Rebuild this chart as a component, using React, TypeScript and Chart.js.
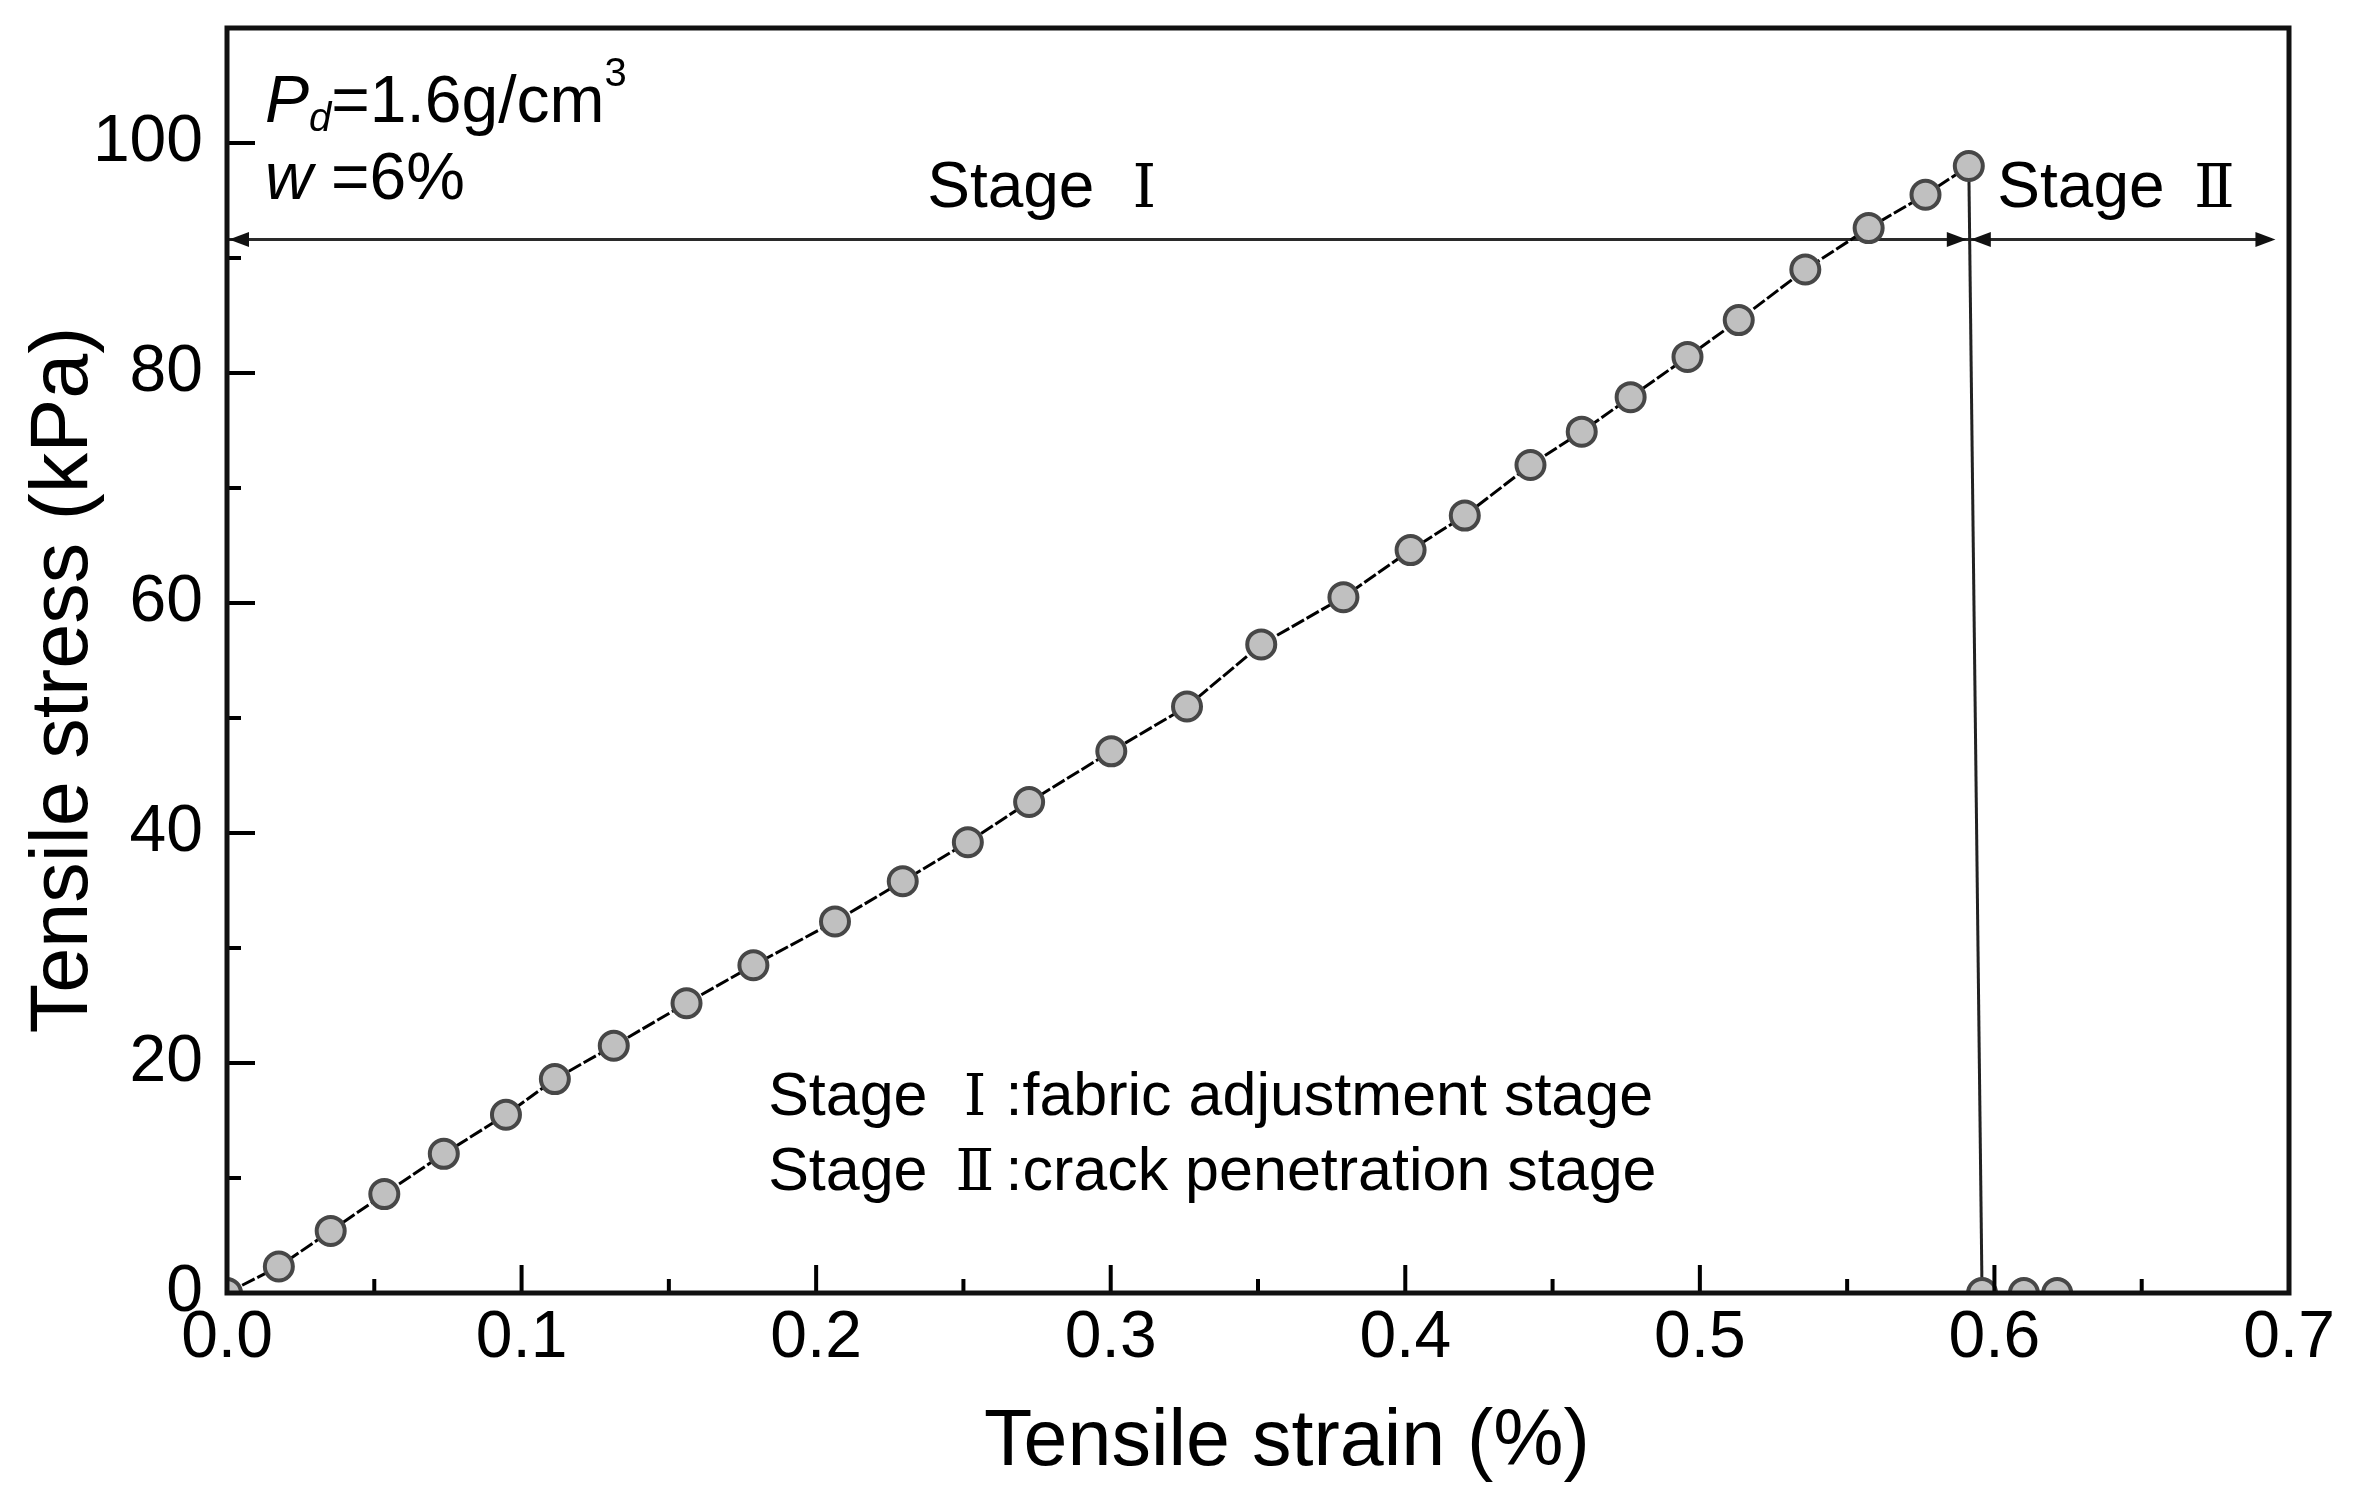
import React, { useEffect, useRef } from 'react';
import { Chart, registerables } from 'chart.js';

Chart.register(...registerables);

// ---- data ----
const strain = [
  0.0, 0.0176, 0.0352, 0.0534, 0.0736, 0.0947, 0.1113, 0.1313, 0.156, 0.1787,
  0.2064, 0.2294, 0.2515, 0.2723, 0.3002, 0.3259, 0.3511, 0.379, 0.4018, 0.4202,
  0.4425, 0.4599, 0.4765, 0.4958, 0.5132, 0.5358, 0.5573, 0.5766, 0.5913,
  0.5958, 0.61, 0.6213,
];
const stress = [
  0, 2.3, 5.4, 8.6, 12.1, 15.5, 18.6, 21.5, 25.2, 28.5,
  32.3, 35.8, 39.2, 42.7, 47.1, 51.0, 56.4, 60.5, 64.6, 67.6,
  72.0, 74.9, 77.9, 81.4, 84.6, 89.0, 92.6, 95.5, 98.0,
  0, 0, 0,
];
const xTicks = [0, 0.1, 0.2, 0.3, 0.4, 0.5, 0.6, 0.7];
const xMinorTicks = [0.05, 0.15, 0.25, 0.35, 0.45, 0.55, 0.65];
const yTicks = [0, 20, 40, 60, 80, 100];
const yMinorTicks = [10, 30, 50, 70, 90];
const xTitle = 'Tensile strain (%)';
const yTitle = 'Tensile stress (kPa)';
const stageNames = ['Stage ', 'Stage '];
const stageNumerals = ['Ⅰ', 'Ⅱ'];
const stageDescriptions = [':fabric adjustment stage', ':crack penetration stage'];
const stageArrowStress = 91.6;
const stageEndStrain = 0.6954;

// ---- layout / style constants ----
const W = 2357;
const H = 1506;
const SANS = '"Liberation Sans", Arial, Helvetica, sans-serif';
const NUM = '"DejaVu Serif", "Liberation Serif", "Noto Sans CJK SC", serif';

type Seg = { t: string; font: string; dy?: number; box?: number };
function drawRich(ctx: CanvasRenderingContext2D, x: number, y: number, segs: Seg[]) {
  let cx = x;
  for (const s of segs) {
    ctx.font = s.font;
    const w = ctx.measureText(s.t).width;
    if (s.box) {
      ctx.fillText(s.t, cx + (s.box - w) / 2, y + (s.dy || 0));
      cx += s.box;
    } else {
      ctx.fillText(s.t, cx, y + (s.dy || 0));
      cx += w;
    }
  }
}

function arrowHead(ctx: CanvasRenderingContext2D, tipX: number, y: number, dir: number) {
  const len = 20;
  const half = 7.5;
  ctx.beginPath();
  ctx.moveTo(tipX, y);
  ctx.lineTo(tipX - dir * len, y - half);
  ctx.lineTo(tipX - dir * len, y + half);
  ctx.closePath();
  ctx.fill();
}

const peakIndex = stress.indexOf(Math.max(...stress));

const decorPlugin = {
  id: 'decor',
  beforeDraw(chart: any) {
    const ctx = chart.ctx;
    ctx.save();
    ctx.fillStyle = '#ffffff';
    ctx.fillRect(0, 0, chart.width, chart.height);
    ctx.restore();
  },
  beforeDatasetsDraw(chart: any) {
    const ctx: CanvasRenderingContext2D = chart.ctx;
    const xs = chart.scales.x;
    const ys = chart.scales.y;
    const y = ys.getPixelForValue(stageArrowStress);
    const x0 = xs.getPixelForValue(0);
    const xd = xs.getPixelForValue(strain[peakIndex]);
    const xe = xs.getPixelForValue(stageEndStrain);
    ctx.save();
    ctx.strokeStyle = '#2a2a2a';
    ctx.fillStyle = '#111';
    ctx.lineWidth = 3;
    ctx.beginPath();
    ctx.moveTo(x0, y);
    ctx.lineTo(xe - 4, y);
    ctx.stroke();
    arrowHead(ctx, x0 + 2, y, -1);
    arrowHead(ctx, xd - 2, y, 1);
    arrowHead(ctx, xd + 2, y, -1);
    arrowHead(ctx, xe, y, 1);
    ctx.restore();
  },
  afterDatasetsDraw(chart: any) {
    const ctx: CanvasRenderingContext2D = chart.ctx;
    const a = chart.chartArea;
    const xs = chart.scales.x;
    const ys = chart.scales.y;
    ctx.save();
    ctx.strokeStyle = '#000';
    ctx.lineWidth = 4;
    ctx.beginPath();
    for (const v of xTicks) {
      const px = xs.getPixelForValue(v);
      ctx.moveTo(px, a.bottom);
      ctx.lineTo(px, a.bottom - 28);
    }
    for (const v of xMinorTicks) {
      const px = xs.getPixelForValue(v);
      ctx.moveTo(px, a.bottom);
      ctx.lineTo(px, a.bottom - 14);
    }
    for (const v of yTicks) {
      const py = ys.getPixelForValue(v);
      ctx.moveTo(a.left, py);
      ctx.lineTo(a.left + 28, py);
    }
    for (const v of yMinorTicks) {
      const py = ys.getPixelForValue(v);
      ctx.moveTo(a.left, py);
      ctx.lineTo(a.left + 14, py);
    }
    ctx.stroke();
    ctx.lineWidth = 5;
    ctx.strokeStyle = '#111';
    ctx.strokeRect(a.left, a.top, a.right - a.left, a.bottom - a.top);
    ctx.restore();
  },
  afterDraw(chart: any) {
    const ctx: CanvasRenderingContext2D = chart.ctx;
    const a = chart.chartArea;
    const xs = chart.scales.x;
    const ys = chart.scales.y;
    ctx.save();
    ctx.fillStyle = '#000';
    ctx.textBaseline = 'alphabetic';

    // axis titles
    ctx.textAlign = 'center';
    ctx.font = `79px ${SANS}`;
    ctx.fillText(xTitle, 1287, 1465);
    ctx.save();
    ctx.translate(87, 680);
    ctx.rotate(-Math.PI / 2);
    ctx.font = `81px ${SANS}`;
    ctx.fillText(yTitle, 0, 0);
    ctx.restore();
    ctx.textAlign = 'left';

    // specimen info
    const ix = a.left + 38;
    drawRich(ctx, ix, 122, [
      { t: 'P', font: `italic 66px ${SANS}` },
      { t: 'd', font: `italic 40px ${SANS}`, dy: 9 },
      { t: '=1.6g/cm', font: `66px ${SANS}` },
      { t: '3', font: `40px ${SANS}`, dy: -36 },
    ]);
    drawRich(ctx, ix, 199, [
      { t: 'w', font: `italic 66px ${SANS}` },
      { t: ' =6%', font: `66px ${SANS}` },
    ]);

    // stage labels above the arrow
    drawRich(ctx, xs.getPixelForValue(0.2377), 207, [
      { t: stageNames[0], font: `64px ${SANS}` },
      { t: stageNumerals[0], font: `60px ${NUM}`, box: 64 },
    ]);
    drawRich(ctx, xs.getPixelForValue(0.601), 207, [
      { t: stageNames[1], font: `64px ${SANS}` },
      { t: stageNumerals[1], font: `60px ${NUM}`, box: 64 },
    ]);

    // stage descriptions
    const lx = xs.getPixelForValue(0.1837);
    const base1 = ys.getPixelForValue(15.5);
    const base2 = ys.getPixelForValue(9.0);
    [base1, base2].forEach((b, i) => {
      drawRich(ctx, lx, b, [
        { t: stageNames[i], font: `61px ${SANS}` },
        { t: stageNumerals[i], font: `57px ${NUM}`, box: 61 },
        { t: stageDescriptions[i], font: `61px ${SANS}` },
      ]);
    });
    ctx.restore();
  },
};

export default function App() {
  const ref = useRef<HTMLCanvasElement | null>(null);
  useEffect(() => {
    if (!ref.current) return;
    const points = strain.map((x, i) => ({ x, y: stress[i] }));
    const chart = new Chart(ref.current, {
      type: 'scatter',
      data: {
        datasets: [
          {
            data: points,
            showLine: true,
            borderColor: '#000',
            borderWidth: 3,
            borderDash: [14, 3],
            pointRadius: 14,
            pointHoverRadius: 14,
            pointBackgroundColor: '#c0c0c0',
            pointBorderColor: '#474747',
            pointBorderWidth: 4,
            clip: 0,
            segment: {
              borderDash: (c: any) => (c.p0.parsed.y > 0 && c.p1.parsed.y === 0 ? [] : [14, 3]),
              borderColor: (c: any) => (c.p0.parsed.y > 0 && c.p1.parsed.y === 0 ? '#222' : '#000'),
            },
          } as any,
        ],
      },
      options: {
        responsive: false,
        animation: false,
        devicePixelRatio: 1,
        events: [],
        layout: { padding: { left: 0, top: 28, right: 68, bottom: 0 } },
        plugins: { legend: { display: false }, tooltip: { enabled: false }, title: { display: false } },
        scales: {
          x: {
            type: 'linear',
            min: 0,
            max: 0.7,
            grid: { display: false },
            border: { display: false },
            afterBuildTicks: (s: any) => {
              s.ticks = xTicks.map((v) => ({ value: v }));
            },
            afterFit: (s: any) => {
              s.height = 213;
              s.paddingLeft = 0;
              s.paddingRight = 0;
            },
            ticks: {
              autoSkip: false,
              maxRotation: 0,
              minRotation: 0,
              padding: 5,
              color: '#000',
              font: { family: SANS, size: 66, lineHeight: 1 },
              callback: (v: any) => Number(v).toFixed(1),
            },
          },
          y: {
            type: 'linear',
            min: 0,
            max: 110,
            grid: { display: false },
            border: { display: false },
            afterBuildTicks: (s: any) => {
              s.ticks = yTicks.map((v) => ({ value: v }));
            },
            afterFit: (s: any) => {
              s.width = 227;
              s.paddingTop = 0;
              s.paddingBottom = 0;
            },
            ticks: {
              autoSkip: false,
              padding: 16,
              color: '#000',
              font: { family: SANS, size: 66, lineHeight: 1 },
              callback: (v: any) => String(v),
            },
          },
        },
      } as any,
      plugins: [decorPlugin as any],
    });
    return () => chart.destroy();
  }, []);
  return (
    <div style={{ position: 'absolute', left: 0, top: 0, width: W, height: H, background: '#fff' }}>
      <canvas ref={ref} width={W} height={H} style={{ display: 'block', width: W, height: H }} />
    </div>
  );
}
